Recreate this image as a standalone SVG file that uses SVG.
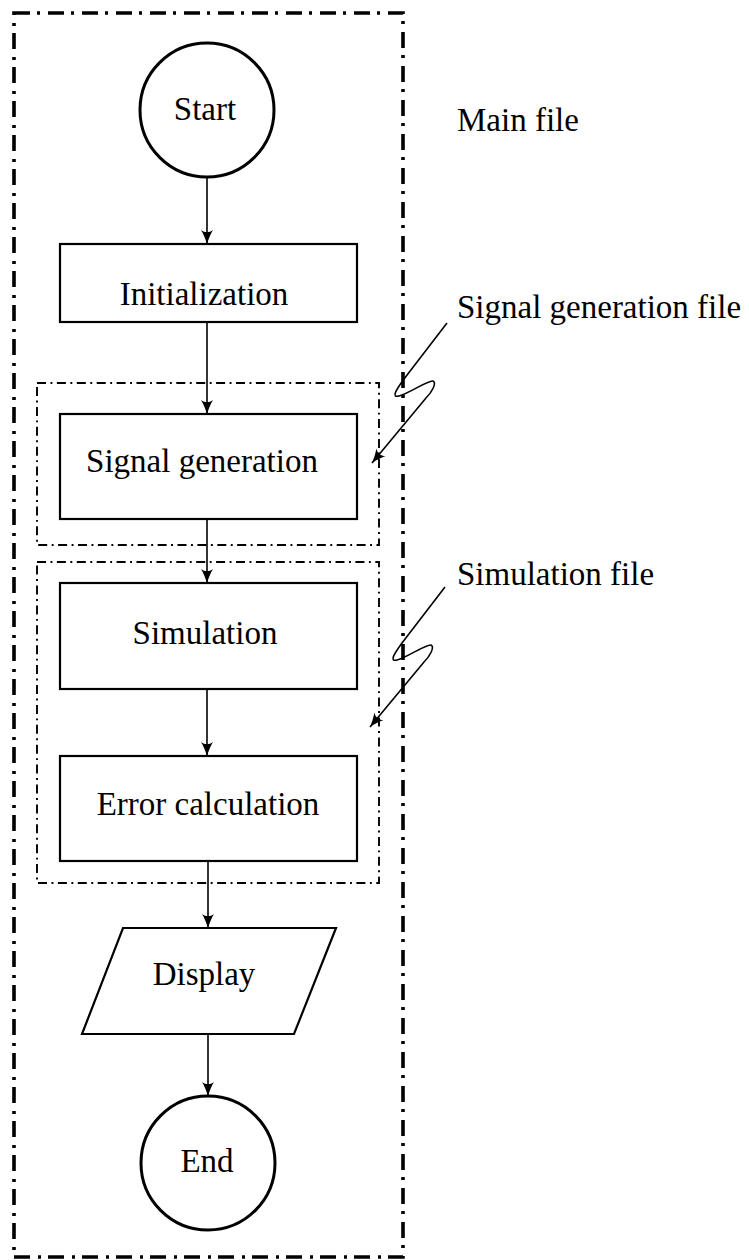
<svg xmlns="http://www.w3.org/2000/svg" width="749" height="1260" viewBox="0 0 749 1260">
<style>
text{font-family:"Liberation Serif","Times New Roman",serif;font-size:33px;fill:#000}
.lbl{text-anchor:middle}
.node{fill:#fff;stroke:#000;stroke-width:2.2}
.circ{fill:#fff;stroke:#000;stroke-width:3}
.outer{fill:none;stroke:#000;stroke-width:3.6;stroke-dasharray:16 7 3 8}
.inner{fill:none;stroke:#000;stroke-width:1.9;stroke-dasharray:9 4.5 1.9 4.5}
.edge{fill:none;stroke:#000;stroke-width:1.6;marker-end:url(#ah)}
</style>
<defs>
<marker id="ah" markerUnits="userSpaceOnUse" markerWidth="18" markerHeight="16" viewBox="-16 -8 18 16" refX="0" refY="0" orient="auto">
<path d="M0,0 C-4,-1.2 -10,-3.5 -14,-6 C-11,-2 -11,2 -14,6 C-10,3.5 -4,1.2 0,0 Z" fill="#000"/>
</marker>
</defs>
<g id="frames">
<rect class="outer" x="14" y="13" width="389" height="1244"/>
<rect class="inner" x="37" y="383" width="342" height="162"/>
<rect class="inner" x="37" y="562" width="342" height="321"/>
</g>
<g id="start"><circle class="circ" cx="207" cy="110" r="67"/><text class="lbl" x="205" y="120">Start</text></g>
<g id="init"><rect class="node" x="60" y="244" width="297" height="78"/><text class="lbl" x="204" y="305">Initialization</text></g>
<g id="siggen"><rect class="node" x="60" y="414" width="297" height="105"/><text class="lbl" x="202" y="472">Signal generation</text></g>
<g id="sim"><rect class="node" x="60" y="583" width="297" height="106"/><text class="lbl" x="205" y="644">Simulation</text></g>
<g id="err"><rect class="node" x="60" y="756" width="297" height="105"/><text class="lbl" x="208" y="815">Error calculation</text></g>
<g id="display"><polygon class="node" points="123,928 336,928 294,1034 82,1034"/><text class="lbl" x="204" y="985">Display</text></g>
<g id="end"><circle class="circ" cx="208" cy="1163" r="67"/><text class="lbl" x="207" y="1172">End</text></g>
<g id="labels">
<text x="457" y="131">Main file</text>
<text x="457" y="318">Signal generation file</text>
<text x="457" y="585">Simulation file</text>
</g>
<g id="connectors">
<path class="edge" d="M207,177 L207,244"/>
<path class="edge" d="M207,322 L207,414"/>
<path class="edge" d="M207,519 L207,583"/>
<path class="edge" d="M207,689 L207,756"/>
<path class="edge" d="M208,861 L208,928"/>
<path class="edge" d="M208,1034 L208,1096"/>
<path class="edge" d="M447,323 L404,379 C396,390 391,398 399,396 C410,393 428,380 433,381 C437,383 432,392 426,398 L372,463"/>
<path class="edge" d="M445,587 L402,643 C394,654 389,662 397,660 C408,657 426,644 431,645 C435,647 430,656 424,662 L370,727"/>
</g>
</svg>
